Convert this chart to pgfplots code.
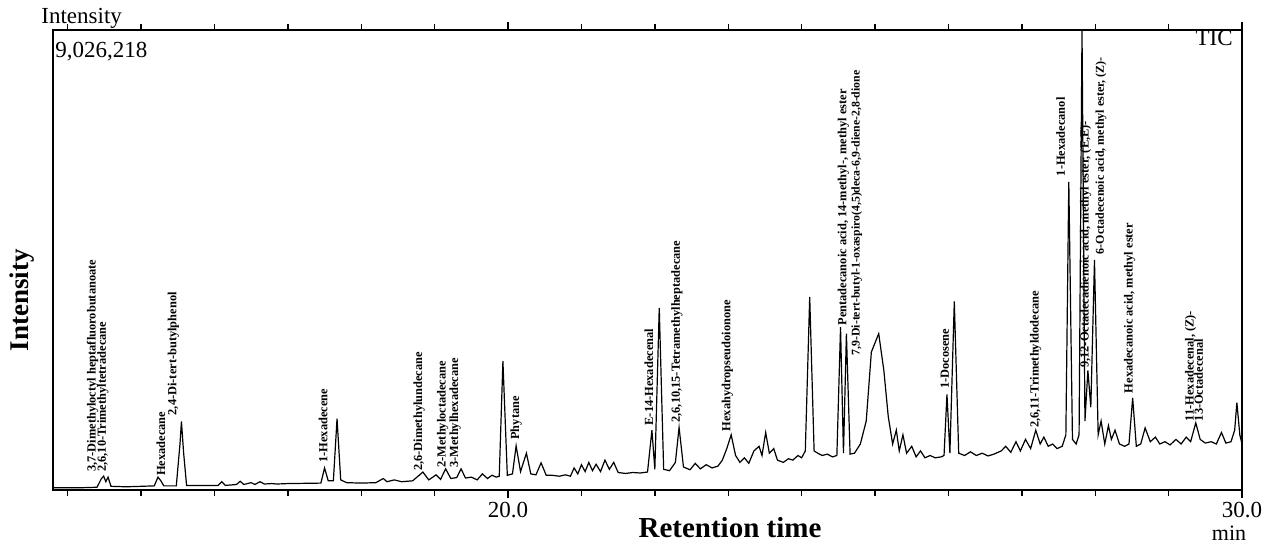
\documentclass[border=0pt]{standalone}
\usepackage{pgfplots}
\pgfplotsset{compat=1.18}
\usepackage{fontspec}
\setmainfont{Liberation Serif}

% rotated peak label: [size]{time}{intensity at foot}{text}
\newcommand{\lab}[4][6.2]{\node[rotate=90,anchor=west,inner sep=0.4pt,
  font=\bfseries\fontsize{#1}{#1}\selectfont] at (axis cs:#2,#3) {#4};}

\begin{document}
\begin{tikzpicture}
\path[use as bounding box] (-26.5pt,-26pt) rectangle (607.5pt,245pt);
\begin{axis}[
  at={(0,0)}, anchor=south west,
  scale only axis, width=594.5pt, height=230pt,
  xmin=13.8, xmax=30, ymin=0, ymax=100,
  axis line style={line width=0.9pt},
  xtick={20,30}, xticklabels={20.0,30.0},
  minor xtick={14,...,29},
  ytick=\empty,
  tick align=outside, major tick length=4pt, minor tick length=3pt,
  tick style={black, line width=0.7pt},
  xticklabel style={font=\fontsize{11.5}{12}\selectfont, yshift=1.5pt},
  clip=false,
]
\addplot[black, line width=0.6pt] coordinates {
(13.80,0.5) (14.20,0.5) (14.40,0.6) (14.46,2.5) (14.49,3.0) (14.52,1.8) (14.55,2.8) (14.59,0.8)
(14.80,0.7) (15.00,0.8) (15.18,0.9) (15.23,2.8) (15.27,2.0) (15.31,0.9) (15.48,0.9) (15.53,10)
(15.55,14.9) (15.58,8) (15.62,1.0) (15.90,1.0) (16.05,1.0) (16.10,1.8) (16.15,1.0) (16.30,1.2)
(16.35,1.9) (16.40,1.2) (16.50,1.6) (16.55,1.2) (16.62,1.8) (16.68,1.3) (16.78,1.4) (16.85,1.3)
(17.00,1.4) (17.45,1.5) (17.50,4.8) (17.55,2.0) (17.62,2.0) (17.67,15.5) (17.72,2.2) (17.80,1.6)
(18.00,1.5) (18.20,1.6) (18.30,2.5) (18.35,1.8) (18.45,2.2) (18.55,1.8) (18.70,2.0) (18.84,3.9)
(18.92,2.2) (19.02,3.3) (19.08,2.3) (19.15,4.6) (19.22,2.5) (19.30,2.7) (19.36,4.6) (19.42,2.6)
(19.50,2.8) (19.58,2.2) (19.65,3.5) (19.72,2.5) (19.78,3.2) (19.84,2.8) (19.88,3.0) (19.93,28)
(19.99,3.2) (20.06,3.5) (20.11,9.6) (20.17,4.0) (20.25,8.0) (20.31,3.5) (20.38,3.3) (20.45,5.9)
(20.52,3.2) (20.60,3.2) (20.70,3.0) (20.78,3.3) (20.85,3.0) (20.90,4.8) (20.95,3.5) (21.00,5.5)
(21.05,4.0) (21.10,6.0) (21.15,4.2) (21.20,5.6) (21.26,4.0) (21.32,6.5) (21.38,4.5) (21.44,6.0)
(21.50,3.8) (21.60,3.6) (21.70,3.8) (21.80,3.7) (21.90,3.9) (21.96,13) (22.00,4.5) (22.06,39.6)
(22.12,4.5) (22.20,4.2) (22.28,6.0) (22.33,13.6) (22.39,5.0) (22.48,4.4) (22.55,5.8) (22.62,4.6)
(22.70,5.5) (22.78,4.8) (22.86,5.2) (22.92,6.5) (22.98,9.0) (23.04,12) (23.10,7.5) (23.16,6.0)
(23.22,7.0) (23.28,5.8) (23.35,8.5) (23.42,9.5) (23.46,7.5) (23.51,12.5) (23.56,8.0) (23.62,9.0)
(23.67,6.5) (23.75,6.0) (23.82,6.8) (23.88,6.5) (23.95,7.5) (24.00,7.0) (24.05,8.5) (24.11,42)
(24.17,8.5) (24.22,8.0) (24.28,7.5) (24.35,7.8) (24.42,7.2) (24.48,7.5) (24.53,35.4) (24.57,8.0)
(24.61,34) (24.66,7.8) (24.72,8.0) (24.80,10) (24.88,15) (24.95,30) (25.05,34) (25.12,26)
(25.18,16) (25.24,10) (25.29,13) (25.33,8.5) (25.38,12) (25.43,8) (25.50,9.5) (25.56,7.2)
(25.62,8.5) (25.68,7.0) (25.75,7.5) (25.82,7.0) (25.90,7.2) (25.94,7.5) (25.98,20.8) (26.02,8)
(26.08,41) (26.14,8.0) (26.22,7.5) (26.30,8.3) (26.38,7.5) (26.46,8.0) (26.54,7.4) (26.62,7.8)
(26.72,8.5) (26.78,9.5) (26.85,8.2) (26.92,10.5) (26.98,8.5) (27.05,11) (27.12,9.0) (27.19,13)
(27.25,10) (27.30,11.5) (27.36,9.5) (27.42,10) (27.48,9.0) (27.55,9.5) (27.60,12) (27.64,67)
(27.69,11) (27.74,10) (27.78,12) (27.82,100) (27.86,15) (27.90,26) (27.94,18) (27.99,50)
(28.04,12) (28.08,15) (28.13,10) (28.18,14) (28.22,11) (28.27,13) (28.33,10) (28.40,9.5)
(28.46,10) (28.51,20) (28.56,9.5) (28.62,10) (28.68,13.5) (28.75,10.5) (28.82,11.5) (28.88,10)
(28.95,10.5) (29.02,9.8) (29.10,11) (29.17,10) (29.24,11.5) (29.30,10.5) (29.37,14.6) (29.43,11)
(29.50,10.2) (29.58,10.5) (29.65,10) (29.72,12.5) (29.78,10.2) (29.85,10.5) (29.90,13) (29.93,19)
(29.97,12) (30.00,10)
};
\lab{14.34}{3.7}{3,7-Dimethyloctyl heptafluorobutanoate}
\lab{14.48}{3.7}{2,6,10-Trimethyltetradecane}
\lab{15.27}{2.8}{Hexadecane}
\lab{15.44}{16}{2,4-Di-tert-butylphenol}
\lab{17.48}{5.7}{1-Hexadecene}
\lab{18.79}{3.9}{2,6-Dimethylundecane}
\lab{19.11}{4.6}{2-Methyloctadecane}
\lab{19.28}{4.6}{3-Methylhexadecane}
\lab{20.11}{10.7}{Phytane}
\lab{21.92}{13.8}{E-14-Hexadecenal}
\lab{22.30}{14.4}{2,6,10,15-Tetramethylheptadecane}
\lab{22.99}{12.5}{Hexahydropseudoionone}
\lab{24.57}{35.5}{Pentadecanoic acid, 14-methyl-, methyl ester}
\lab[5.9]{24.75}{29}{7,9-Di-tert-butyl-1-oxaspiro(4,5)deca-6,9-diene-2,8-dione}
\lab{25.95}{21.7}{1-Docosene}
\lab{27.19}{13.3}{2,6,11-Trimethyldodecane}
\lab{27.53}{68}{1-Hexadecanol}
\lab{27.87}{26.3}{9,12-Octadecadienoic acid, methyl ester, (E,E)-}
\lab[6.0]{28.08}{51}{6-Octadecenoic acid, methyl ester, (Z)-}
\lab{28.47}{20.8}{Hexadecanoic acid, methyl ester}
\lab{29.30}{14.7}{11-Hexadecenal, (Z)-}
\lab{29.41}{14.7}{13-Octadecenal}
\end{axis}
\node[rotate=90, font=\bfseries\fontsize{13.5}{14}\selectfont] at (-15.5pt,95pt) {Intensity};
\node[anchor=base west, inner sep=0pt, font=\fontsize{11.5}{12}\selectfont] at (-6pt,233pt) {Intensity};
\node[anchor=base west, inner sep=0pt, font=\fontsize{11.5}{12}\selectfont] at (1pt,216pt) {9,026,218};
\node[anchor=base east, inner sep=0pt, font=\fontsize{11.5}{12}\selectfont] at (590pt,222pt) {TIC};
\node[anchor=base, inner sep=0pt, font=\bfseries\fontsize{14.5}{15}\selectfont] at (338.5pt,-23.5pt) {Retention time};
\node[anchor=base, inner sep=0pt, font=\fontsize{11}{12}\selectfont] at (588pt,-25pt) {min};
\end{tikzpicture}
\end{document}
